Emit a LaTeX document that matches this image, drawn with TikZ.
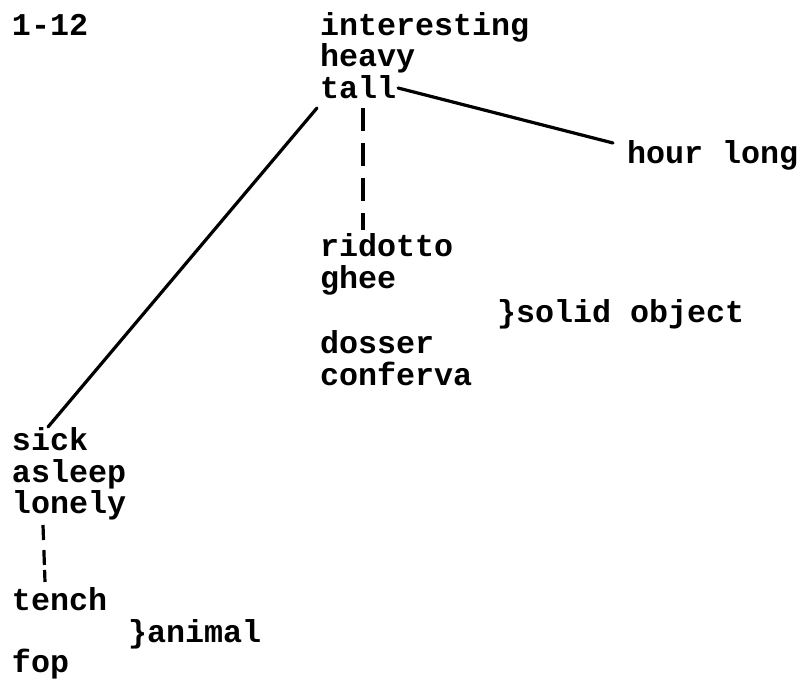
\documentclass[tikz,border=0pt]{standalone}
\usepackage{fontspec}
\newfontfamily\monofam{Liberation Mono}
\begin{document}
\begin{tikzpicture}[x=1pt,y=-1pt,
  word/.style={anchor=base west,inner sep=0pt,outer sep=0pt,font=\monofam\bfseries\fontsize{31.7}{32}\selectfont},
  link/.style={line width=3.2pt,line cap=round},
  dashlink/.style={line width=3.2pt,dash pattern=on 23pt off 12pt}]
\useasboundingbox (0,0) rectangle (804,680);
\node[word] (n112) at (12,35) {1-12};
\node[word] (interesting) at (320,35) {interesting};
\node[word] (heavy) at (320,66) {heavy};
\node[word] (tall) at (320,98) {tall};
\node[word] (hour) at (627,163) {hour long};
\node[word] (ridotto) at (320,256) {ridotto};
\node[word] (ghee) at (320,288) {ghee};
\node[word] (solid) at (497,322) {\}solid object};
\node[word] (dosser) at (320,353) {dosser};
\node[word] (conferva) at (320,385) {conferva};
\node[word] (sick) at (12,450) {sick};
\node[word] (asleep) at (12,482) {asleep};
\node[word] (lonely) at (12,513) {lonely};
\node[word] (tench) at (12,610) {tench};
\node[word] (animal) at (128,642) {\}animal};
\node[word] (fop) at (12,672) {fop};
\draw[link] ([shift={(2pt,10pt)}]tall.base east) -- ([shift={(-14pt,20pt)}]hour.base west);
\draw[link] ([shift={(-3pt,-10pt)}]tall.base west) -- ([shift={(36pt,23pt)}]sick.base west);
\draw[dashlink] ([shift={(43pt,-10pt)}]tall.base west) -- ([shift={(43pt,26pt)}]ridotto.base west);
\draw[line width=3.2pt,dash pattern=on 15pt off 10pt on 15pt off 5pt] ([shift={(31pt,-12pt)}]lonely.base west) -- ([shift={(33pt,28pt)}]tench.base west);
\end{tikzpicture}
\end{document}
